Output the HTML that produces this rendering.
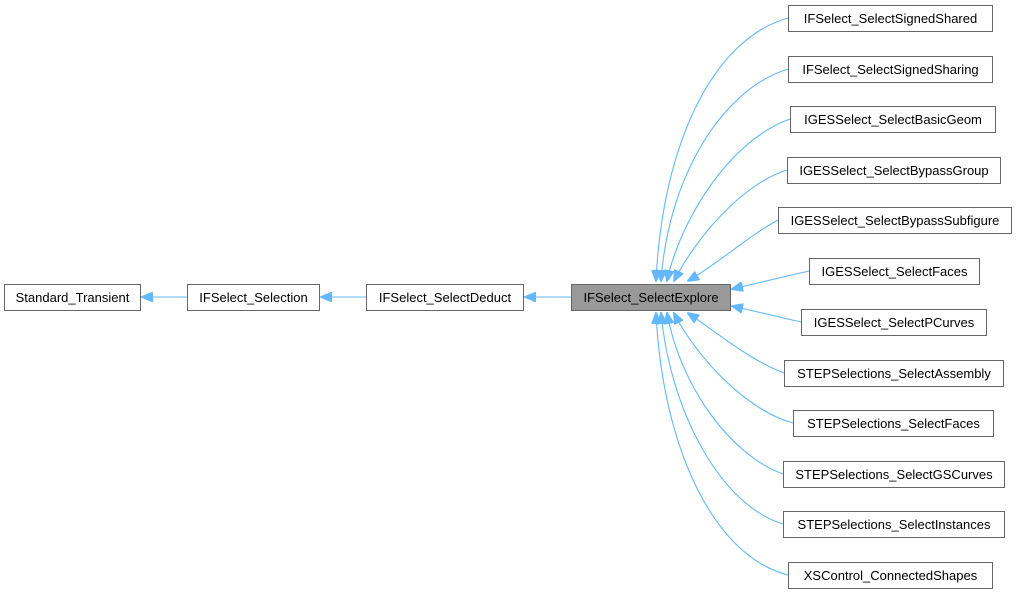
<!DOCTYPE html>
<html><head><style>
body{margin:0;background:#fff;}
svg text{font-family:"Liberation Sans",sans-serif;font-size:13px;fill:#000;}
</style></head><body>
<svg width="1016" height="595" viewBox="0 0 1016 595" xmlns="http://www.w3.org/2000/svg">
<defs>
<marker id="a" markerWidth="12" markerHeight="10" refX="11" refY="5" orient="auto" markerUnits="userSpaceOnUse">
<path d="M0,0 L12,5 L0,10 z" fill="#63b8ff" stroke="#63b8ff"/>
</marker>
</defs>
<g fill="none" stroke="#63b8ff" stroke-width="1.1">
<path d="M187,297 L142,297" marker-end="url(#a)"/>
<path d="M366,297 L321,297" marker-end="url(#a)"/>
<path d="M571,297 L525,297" marker-end="url(#a)"/>
<path d="M788,18 C710,40 662,150 656,281" marker-end="url(#a)"/>
<path d="M788,69 C720,90 668,180 661,281" marker-end="url(#a)"/>
<path d="M790,119 C730,140 680,220 667,281" marker-end="url(#a)"/>
<path d="M787,170 C740,185 695,240 674,281" marker-end="url(#a)"/>
<path d="M778,220 C750,235 720,262 688,281" marker-end="url(#a)"/>
<path d="M809,271 L732,289" marker-end="url(#a)"/>
<path d="M801,322 L732,306" marker-end="url(#a)"/>
<path d="M784,373 C750,360 720,335 688,313" marker-end="url(#a)"/>
<path d="M793,423 C745,410 695,355 674,313" marker-end="url(#a)"/>
<path d="M783,474 C730,455 680,385 667,313" marker-end="url(#a)"/>
<path d="M783,524 C720,505 670,410 661,313" marker-end="url(#a)"/>
<path d="M788,575 C710,555 662,440 656,313" marker-end="url(#a)"/>
</g>
<g stroke="#666" stroke-width="1" fill="#fff">
<rect x="4.5" y="284.5" width="136" height="26"/>
<rect x="187.5" y="284.5" width="132" height="26"/>
<rect x="366.5" y="284.5" width="157" height="26"/>
<rect x="571.5" y="284.5" width="159" height="26" fill="#999"/>
<rect x="788.5" y="5.5" width="204" height="26"/>
<rect x="788.5" y="56.5" width="204" height="26"/>
<rect x="790.5" y="106.5" width="205" height="26"/>
<rect x="787.5" y="157.5" width="213" height="26"/>
<rect x="778.5" y="207.5" width="233" height="26"/>
<rect x="809.5" y="258.5" width="170" height="26"/>
<rect x="801.5" y="309.5" width="185" height="26"/>
<rect x="784.5" y="360.5" width="219" height="26"/>
<rect x="793.5" y="410.5" width="200" height="26"/>
<rect x="783.5" y="461.5" width="221" height="26"/>
<rect x="783.5" y="511.5" width="221" height="26"/>
<rect x="788.5" y="562.5" width="204" height="26"/>
</g>
<g text-anchor="middle">
<text x="72.5" y="302">Standard_Transient</text>
<text x="253.5" y="302">IFSelect_Selection</text>
<text x="445" y="302">IFSelect_SelectDeduct</text>
<text x="651" y="302">IFSelect_SelectExplore</text>
<text x="890.5" y="23">IFSelect_SelectSignedShared</text>
<text x="890.5" y="74">IFSelect_SelectSignedSharing</text>
<text x="893" y="124">IGESSelect_SelectBasicGeom</text>
<text x="894" y="175">IGESSelect_SelectBypassGroup</text>
<text x="895" y="225">IGESSelect_SelectBypassSubfigure</text>
<text x="894.5" y="276">IGESSelect_SelectFaces</text>
<text x="894" y="327">IGESSelect_SelectPCurves</text>
<text x="894" y="378">STEPSelections_SelectAssembly</text>
<text x="893.5" y="428">STEPSelections_SelectFaces</text>
<text x="894" y="479">STEPSelections_SelectGSCurves</text>
<text x="894" y="529">STEPSelections_SelectInstances</text>
<text x="890.5" y="580">XSControl_ConnectedShapes</text>
</g>
</svg>
</body></html>
